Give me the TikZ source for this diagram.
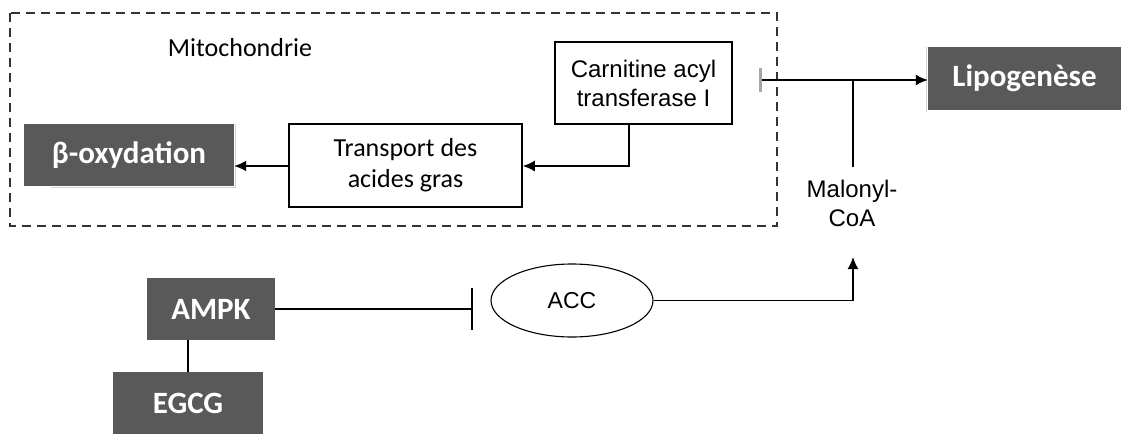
\documentclass[tikz,border=0pt]{standalone}
\usepackage{fontspec}
\setmainfont{Carlito}
\newfontfamily\arialfont{Liberation Sans}
\usetikzlibrary{arrows.meta,shapes.geometric}

\definecolor{boxgray}{HTML}{595959}
\definecolor{framegray}{HTML}{333333}
\definecolor{bargray}{HTML}{A6A6A6}

\tikzset{
  darkbox/.style={fill=boxgray, draw=none, text=white, inner sep=0pt,
    font=\fontsize{31}{36}\selectfont\bfseries, align=center},
  plainbox/.style={draw=black, line width=1.5pt, fill=white, inner sep=0pt, align=center},
  calibritext/.style={font=\fontsize{26}{31}\selectfont},
  ariatext/.style={font=\arialfont\fontsize{24}{29}\selectfont},
  conn/.style={draw=black, line width=1.6pt},
  arr/.style={conn, -{Latex[length=12pt,width=11pt]}},
  mitoframe/.style={draw=framegray, line width=1.8pt, dash pattern=on 9pt off 6pt},
  inhibbar/.style={line width=1.6pt},
}

\begin{document}
\begin{tikzpicture}[x=1pt, y=-1pt]
  \useasboundingbox (0,0) rectangle (1121,434);

  % mitochondrial compartment
  \draw[mitoframe] (10,13) rectangle (777,226);
  \node[calibritext] (mito) at (240,48) {Mitochondrie};

  % boxes inside the compartment
  \node[darkbox, minimum width=210pt, minimum height=62pt] (beta) at (129,155) {β-oxydation};
  \draw[gray!35, line width=0.8pt] (beta.north east) ++(1.5pt,0) -- ++(0,-64pt) -- ++(-185pt,0);
  \node[plainbox, calibritext, minimum width=233pt, minimum height=83pt] (transport) at (405.5,165.5)
    {Transport des\\acides gras};
  \node[plainbox, ariatext, minimum width=177pt, minimum height=82pt] (cat) at (643.5,83)
    {Carnitine acyl\\transferase I};

  % lipogenesis
  \node[darkbox, minimum width=193pt, minimum height=63pt] (lipo) at (1024.5,78.5) {Lipogenèse};
  \draw[gray!35, line width=0.8pt] (lipo.north west) ++(-1.5pt,0) -- ++(0,-65pt);

  % malonyl-CoA
  \node[ariatext, align=center, inner sep=0pt] (mal) at (852,203) {Malonyl-\\CoA};

  % lower pathway
  \node[darkbox, minimum width=128pt, minimum height=62pt] (ampk) at (211,309) {AMPK};
  \node[darkbox, minimum width=150pt, minimum height=62pt] (egcg) at (188,403) {EGCG};
  \node[draw=black, line width=1.1pt, ellipse, minimum width=162pt, minimum height=73pt,
        inner sep=0pt, font=\arialfont\fontsize{23}{27}\selectfont] (acc) at (572,300.5) {ACC};

  % connector points
  \coordinate (catdown) at (629,166);
  \coordinate (inh) at (760,80);
  \coordinate (mjoin) at (853,80);
  \coordinate (mbot) at (853,167);
  \coordinate (ampkbar) at (472,309);
  \coordinate (mup) at (853,257);

  % connectors
  \draw[arr] (cat.south -| catdown) |- (transport.east |- catdown);
  \draw[arr] (transport.west |- catdown) -- (beta.east |- catdown);
  \draw[arr] (inh) -- (lipo.west |- inh);
  \draw[bargray, line width=3pt] (inh) ++(0,-12pt) -- ++(0,24pt);
  \draw[conn] (mjoin) -- (mbot);
  \draw[conn] (egcg.north) -- (egcg.north |- ampk.south);
  \draw[conn] (ampk.east |- ampkbar) -- (ampkbar);
  \draw[inhibbar] (ampkbar) ++(0,-21pt) -- ++(0,42pt);
  \draw[arr] (acc.east) -| (mup);
\end{tikzpicture}
\end{document}
